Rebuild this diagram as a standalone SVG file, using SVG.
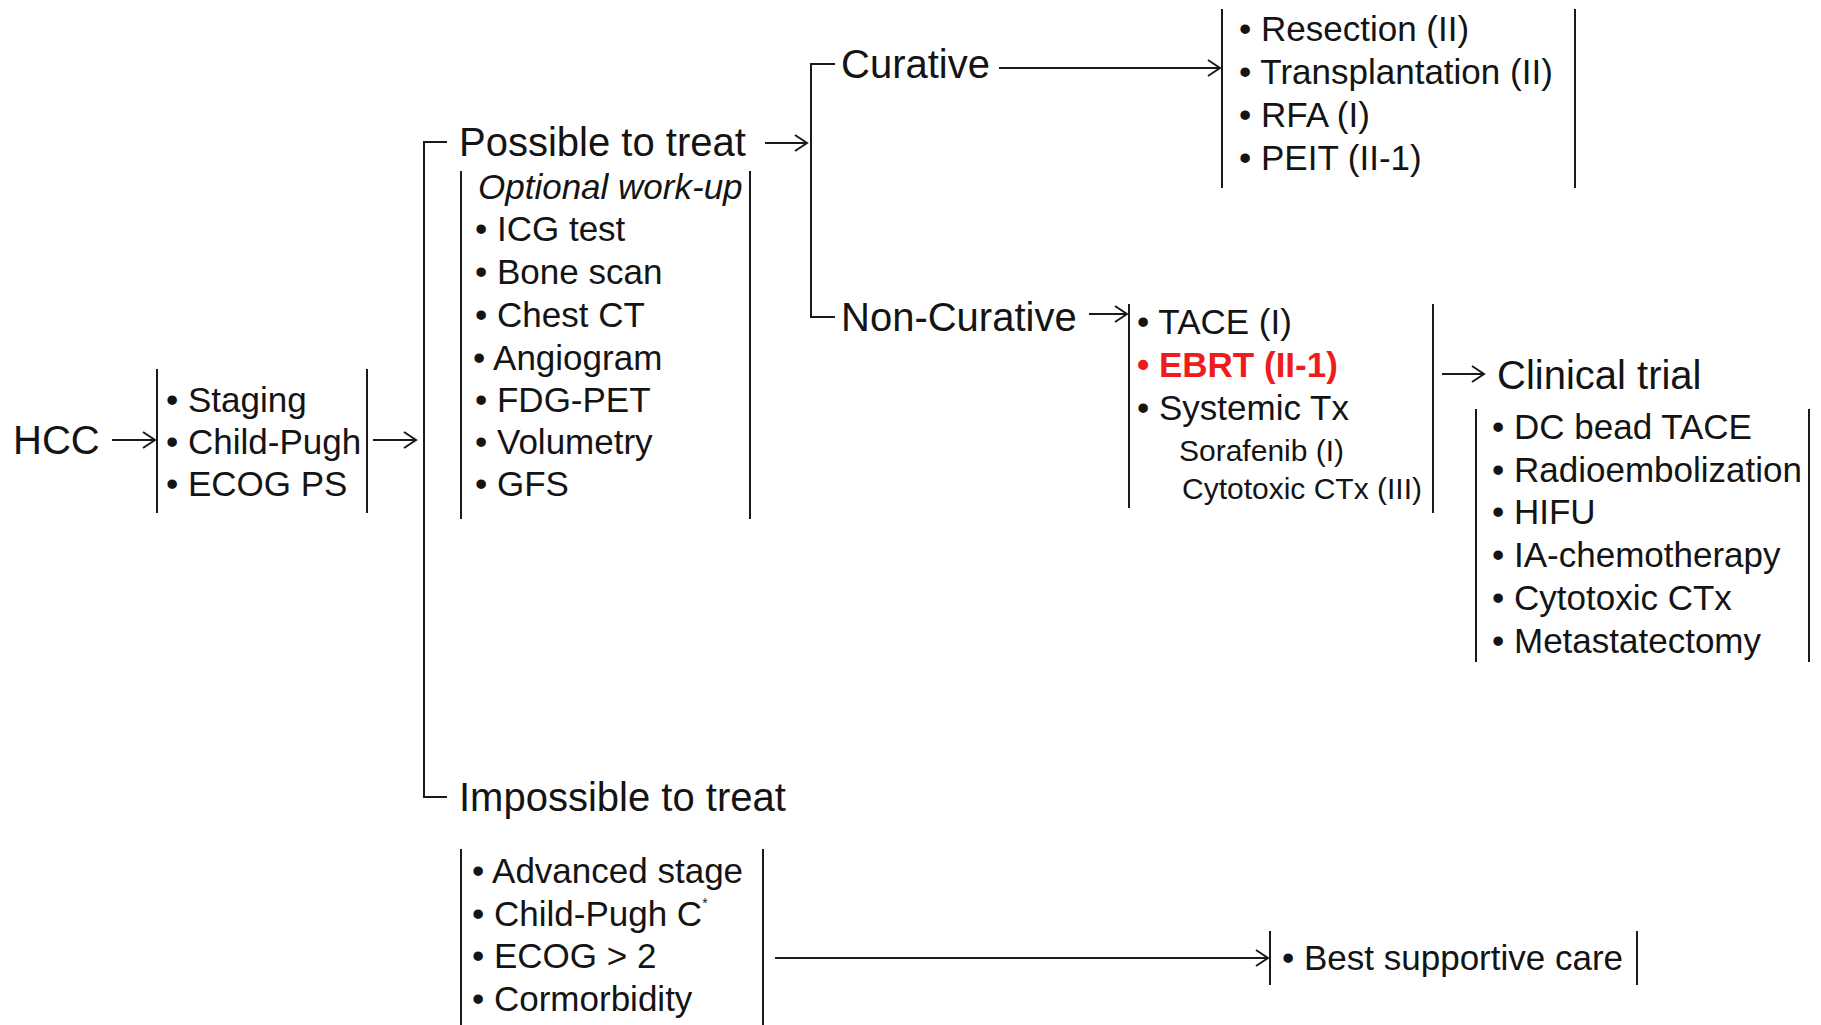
<svg xmlns="http://www.w3.org/2000/svg" width="1821" height="1025" viewBox="0 0 1821 1025">
  <defs>
    <style>
      text { font-family: "Liberation Sans", Arial, sans-serif; fill: #141414; }
      .hd { font-size: 40px; }
      .it { font-size: 35px; }
      .sm { font-size: 30px; }
      .em { font-style: italic; }
      .red { fill: #ee1c1c; font-weight: bold; }
      .bar { stroke: #1a1a1a; stroke-width: 2; fill: none; }
      .link { stroke: #1a1a1a; stroke-width: 2; fill: none; }
    </style>
    <marker id="ah" markerWidth="16" markerHeight="20" refX="13" refY="9" orient="auto" markerUnits="userSpaceOnUse">
      <path d="M1,1 L13,9 L1,17" fill="none" stroke="#1a1a1a" stroke-width="2"/>
    </marker>
  </defs>
  <rect width="1821" height="1025" fill="#ffffff"/>

  <!-- connectors -->
  <g id="connectors">
    <line class="link" x1="112" y1="440" x2="155" y2="440" marker-end="url(#ah)"/>
    <line class="link" x1="373" y1="440" x2="416" y2="440" marker-end="url(#ah)"/>
    <path class="link" d="M447,142 H424 V797 H447"/>
    <line class="link" x1="765" y1="143" x2="807" y2="143" marker-end="url(#ah)"/>
    <path class="link" d="M835,64 H811 V317 H835"/>
    <line class="link" x1="999" y1="68" x2="1220" y2="68" marker-end="url(#ah)"/>
    <line class="link" x1="1089" y1="314" x2="1127" y2="314" marker-end="url(#ah)"/>
    <line class="link" x1="1442" y1="374" x2="1484" y2="374" marker-end="url(#ah)"/>
    <line class="link" x1="775" y1="958" x2="1268" y2="958" marker-end="url(#ah)"/>
  </g>

  <g id="hcc">
    <text class="hd" x="13" y="454">HCC</text>
  </g>

  <g id="assessment">
    <line class="bar" x1="157" y1="369" x2="157" y2="513"/>
    <line class="bar" x1="367" y1="369" x2="367" y2="513"/>
    <text class="it" x="166" y="412">• Staging</text>
    <text class="it" x="166" y="454">• Child-Pugh</text>
    <text class="it" x="166" y="496">• ECOG PS</text>
  </g>

  <g id="possible">
    <text class="hd" x="459" y="156">Possible to treat</text>
  </g>

  <g id="workup">
    <line class="bar" x1="461" y1="171" x2="461" y2="519"/>
    <line class="bar" x1="750" y1="171" x2="750" y2="519"/>
    <text class="it em" x="478" y="199">Optional work-up</text>
    <text class="it" x="475" y="241">• ICG test</text>
    <text class="it" x="475" y="284">• Bone scan</text>
    <text class="it" x="475" y="327">• Chest CT</text>
    <text class="it" x="473" y="370">• Angiogram</text>
    <text class="it" x="475" y="412">• FDG-PET</text>
    <text class="it" x="475" y="454">• Volumetry</text>
    <text class="it" x="475" y="496">• GFS</text>
  </g>

  <g id="curative">
    <text class="hd" x="841" y="78">Curative</text>
  </g>

  <g id="curative-options">
    <line class="bar" x1="1222" y1="9" x2="1222" y2="188"/>
    <line class="bar" x1="1575" y1="9" x2="1575" y2="188"/>
    <text class="it" x="1239" y="41">• Resection (II)</text>
    <text class="it" x="1239" y="84">• Transplantation (II)</text>
    <text class="it" x="1239" y="127">• RFA (I)</text>
    <text class="it" x="1239" y="170">• PEIT (II-1)</text>
  </g>

  <g id="non-curative">
    <text class="hd" x="841" y="331">Non-Curative</text>
  </g>

  <g id="non-curative-options">
    <line class="bar" x1="1129" y1="304" x2="1129" y2="508"/>
    <line class="bar" x1="1433" y1="304" x2="1433" y2="513"/>
    <text class="it" x="1137" y="334">• TACE (I)</text>
    <text class="it red" x="1137" y="377">• EBRT (II-1)</text>
    <text class="it" x="1137" y="420">• Systemic Tx</text>
    <text class="sm" x="1179" y="461">Sorafenib (I)</text>
    <text class="sm" x="1182" y="499">Cytotoxic CTx (III)</text>
  </g>

  <g id="clinical-trial">
    <text class="hd" x="1497" y="389">Clinical trial</text>
  </g>

  <g id="trial-options">
    <line class="bar" x1="1476" y1="409" x2="1476" y2="662"/>
    <line class="bar" x1="1809" y1="409" x2="1809" y2="662"/>
    <text class="it" x="1492" y="439">• DC bead TACE</text>
    <text class="it" x="1492" y="482">• Radioembolization</text>
    <text class="it" x="1492" y="524">• HIFU</text>
    <text class="it" x="1492" y="567">• IA-chemotherapy</text>
    <text class="it" x="1492" y="610">• Cytotoxic CTx</text>
    <text class="it" x="1492" y="653">• Metastatectomy</text>
  </g>

  <g id="impossible">
    <text class="hd" x="459" y="811">Impossible to treat</text>
  </g>

  <g id="impossible-criteria">
    <line class="bar" x1="461" y1="849" x2="461" y2="1025"/>
    <line class="bar" x1="763" y1="849" x2="763" y2="1025"/>
    <text class="it" x="472" y="883">• Advanced stage</text>
    <text class="it" x="472" y="926">• Child-Pugh C<tspan font-size="14" dy="-18">*</tspan></text>
    <text class="it" x="472" y="968">• ECOG &gt; 2</text>
    <text class="it" x="472" y="1011">• Cormorbidity</text>
  </g>

  <g id="supportive-care">
    <line class="bar" x1="1270" y1="931" x2="1270" y2="985"/>
    <line class="bar" x1="1637" y1="931" x2="1637" y2="985"/>
    <text class="it" x="1282" y="970">• Best supportive care</text>
  </g>
</svg>
